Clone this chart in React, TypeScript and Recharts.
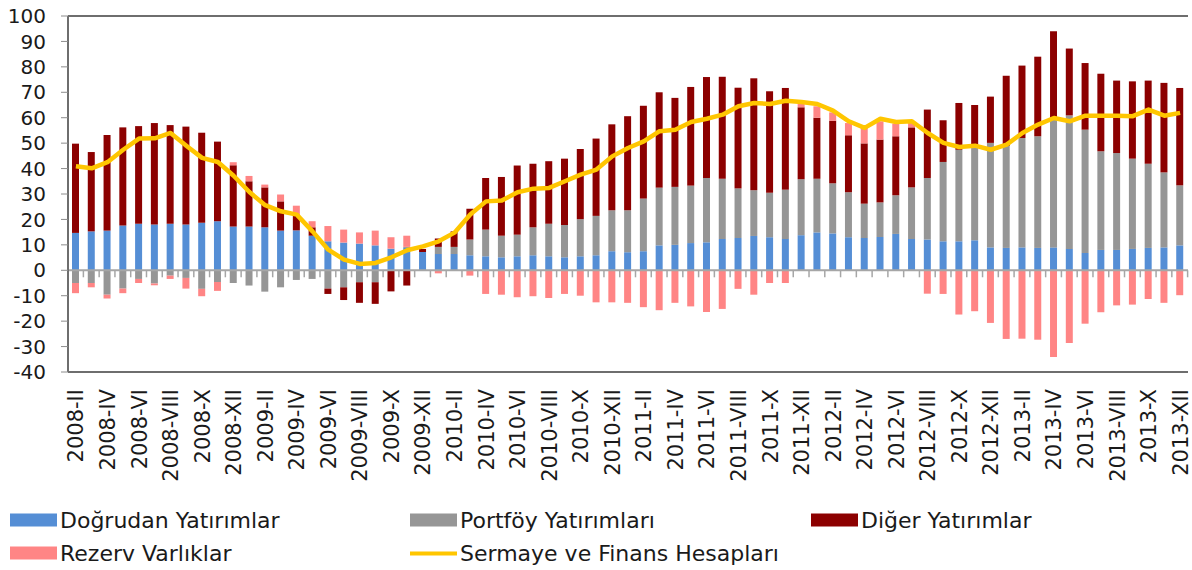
import { ComposedChart, Bar, Line, XAxis, YAxis, ReferenceLine } from 'recharts'

const months = [
  '2008-II', '2008-III', '2008-IV', '2008-V', '2008-VI', '2008-VII', '2008-VIII', '2008-IX', '2008-X', '2008-XI', '2008-XII',
  '2009-I', '2009-II', '2009-III', '2009-IV', '2009-V', '2009-VI', '2009-VII', '2009-VIII', '2009-IX', '2009-X', '2009-XI', '2009-XII',
  '2010-I', '2010-II', '2010-III', '2010-IV', '2010-V', '2010-VI', '2010-VII', '2010-VIII', '2010-IX', '2010-X', '2010-XI', '2010-XII',
  '2011-I', '2011-II', '2011-III', '2011-IV', '2011-V', '2011-VI', '2011-VII', '2011-VIII', '2011-IX', '2011-X', '2011-XI', '2011-XII',
  '2012-I', '2012-II', '2012-III', '2012-IV', '2012-V', '2012-VI', '2012-VII', '2012-VIII', '2012-IX', '2012-X', '2012-XI', '2012-XII',
  '2013-I', '2013-II', '2013-III', '2013-IV', '2013-V', '2013-VI', '2013-VII', '2013-VIII', '2013-IX', '2013-X', '2013-XI', '2013-XII',
]

// Doğrudan Yatırımlar
const dogrudan = [
  14.7, 15.3, 15.6, 17.6, 18.3, 18.0, 18.3, 18.0, 18.7, 19.3, 17.2,
  17.2, 16.9, 15.6, 15.7, 13.6, 11.4, 10.9, 10.5, 9.8, 8.5, 8.8, 7.2,
  6.4, 6.4, 5.9, 5.5, 5.1, 5.5, 5.9, 5.5, 5.1, 5.5, 5.9, 7.5,
  7.1, 7.5, 9.8, 10.0, 10.7, 11.0, 12.3, 12.7, 13.5, 13.0, 12.3, 13.8,
  14.9, 14.5, 13.0, 12.7, 13.1, 14.3, 12.3, 12.1, 11.4, 11.4, 11.8, 9.0,
  8.8, 9.0, 8.8, 9.0, 8.4, 6.8, 8.0, 8.0, 8.4, 8.8, 9.0, 9.8,
]

// Portföy Yatırımları
const portfoy = [
  -5.0, -5.0, -9.6, -7.2, -3.4, -5.2, -2.1, -3.0, -7.3, -4.6, -5.0,
  -6.0, -8.4, -6.7, -3.8, -3.4, -7.2, -6.7, -4.7, -4.7, 0, 0.4, 0,
  2.8, 2.8, 6.2, 10.5, 8.5, 8.5, 11.0, 12.8, 12.7, 14.6, 15.5, 16.1,
  16.5, 20.7, 22.7, 22.8, 22.6, 25.3, 23.7, 19.5, 18.0, 17.5, 19.4, 22.0,
  21.1, 19.7, 17.7, 13.5, 13.6, 15.2, 20.3, 24.2, 31.2, 36.0, 36.3, 41.1,
  40.1, 43.0, 43.9, 50.9, 52.5, 48.5, 38.8, 38.1, 35.5, 33.1, 29.5, 23.6,
]

// Diğer Yatırımlar
const diger = [
  35.1, 31.2, 37.6, 38.6, 38.4, 39.9, 38.8, 38.5, 35.4, 31.3, 24.1,
  17.8, 15.7, 11.5, 6.2, 3.3, -2.1, -5.0, -8.1, -8.5, -8.3, -6.0, 1.2,
  3.3, 6.1, 12.1, 20.3, 23.1, 27.2, 25.0, 24.6, 26.1, 27.6, 30.4, 33.8,
  37.0, 36.5, 37.5, 35.0, 38.8, 39.7, 40.1, 39.6, 44.0, 39.9, 40.0, 28.3,
  24.0, 24.6, 22.4, 23.7, 24.7, 23.2, 23.6, 26.9, 16.4, 18.4, 16.9, 18.2,
  27.6, 28.5, 31.3, 34.1, 26.3, 26.2, 30.5, 28.5, 30.4, 32.7, 35.2, 38.3,
]

// Rezerv Varlıklar
const rezerv = [
  -4.0, -1.7, -1.5, -1.8, -1.6, -0.7, -1.3, -4.2, -2.9, -3.5, 1.2,
  2.1, 1.1, 2.7, 3.5, 2.4, 6.0, 5.1, 4.4, 5.8, 4.5, 4.4, 0,
  -1.2, 0, -2.1, -9.3, -9.6, -10.6, -10.2, -10.9, -9.3, -10.0, -12.6, -12.6,
  -12.8, -14.5, -15.7, -12.8, -14.2, -16.4, -15.2, -7.3, -9.6, -5.0, -5.0, 1.3,
  4.5, 3.3, 4.8, 6.1, 7.2, 5.0, 1.7, -9.2, -9.3, -17.4, -16.1, -20.7,
  -27.0, -26.9, -27.3, -34.1, -28.6, -21.0, -16.5, -13.8, -13.5, -11.3, -12.8, -9.8,
]

// Sermaye ve Finans Hesapları
const sermaye = [
  40.9, 40.1, 42.5, 47.4, 51.8, 51.9, 54.0, 49.0, 44.2, 42.6, 37.2,
  30.8, 25.6, 23.2, 21.9, 15.3, 8.1, 4.2, 2.5, 2.9, 5.1, 7.9, 9.4,
  11.4, 14.8, 21.9, 27.1, 27.4, 30.7, 32.1, 32.4, 35.0, 37.6, 39.6, 44.8,
  48.1, 50.7, 54.7, 55.3, 58.3, 59.6, 61.2, 64.5, 65.8, 65.4, 66.7, 66.2,
  65.4, 62.8, 58.6, 56.0, 59.6, 58.3, 58.6, 54.0, 50.1, 48.5, 49.0, 47.4,
  49.4, 54.0, 57.3, 59.9, 58.6, 60.8, 60.8, 60.8, 60.6, 63.2, 60.8, 61.9,
]

const yTicks = [-40, -30, -20, -10, 0, 10, 20, 30, 40, 50, 60, 70, 80, 90, 100]

const BLUE = '#558ED5'
const GRAY = '#969696'
const DARK_RED = '#8C0000'
const PINK = '#FF8585'
const YELLOW = '#FFC600'
const FRAME = '#6e6e6e'
const FONT = '"DejaVu Sans", sans-serif'

const W = 1192
const H = 570
const Y_AXIS_W = 68
const MARGIN = { top: 16, right: 4, bottom: 0, left: 0 }
const PLOT_W = W - MARGIN.left - MARGIN.right - Y_AXIS_W
const SLOT = PLOT_W / months.length

const data = months.map((m, i) => ({
  month: m,
  dogrudan: dogrudan[i],
  portfoy: portfoy[i],
  diger: diger[i],
  rezerv: rezerv[i],
  sermaye: sermaye[i],
}))

// blue bars sit on the zero line, so they also draw the category tick marks there
function DirectBar(props: any) {
  const { x, y, width, height, fill } = props
  const base = y + height
  const tx = x + width / 2 + SLOT / 2
  return (
    <g>
      <rect x={x} y={y} width={width} height={height} fill={fill} />
      <line x1={tx} x2={tx} y1={base} y2={base + 7} stroke="#a6a6a6" strokeWidth={1.5} />
    </g>
  )
}

function MonthTick({ x, y, payload }: any) {
  return (
    <text
      transform={`translate(${x},${y + 17}) rotate(-90)`}
      textAnchor="end"
      dy="0.36em"
      fontSize={21}
      fontFamily={FONT}
      fill="#1a1a1a"
    >
      {payload.value}
    </text>
  )
}

const legendItems = [
  { label: 'Doğrudan Yatırımlar', color: BLUE, line: false, left: 10, top: 520 },
  { label: 'Portföy Yatırımları', color: GRAY, line: false, left: 410, top: 520 },
  { label: 'Diğer Yatırımlar', color: DARK_RED, line: false, left: 811, top: 520 },
  { label: 'Rezerv Varlıklar', color: PINK, line: false, left: 10, top: 553 },
  { label: 'Sermaye ve Finans Hesapları', color: YELLOW, line: true, left: 410, top: 553 },
]

export default function App() {
  return (
    <div style={{ position: 'relative', width: W, height: H, background: '#fff' }}>
      <style>{'body{margin:0}'}</style>
      <ComposedChart width={W} height={H} data={data} margin={MARGIN} stackOffset="sign" barSize={7}>
        <XAxis
          dataKey="month"
          height={H - 372}
          interval={1}
          axisLine={{ stroke: FRAME, strokeWidth: 2 }}
          tickLine={false}
          tickSize={0}
          tickMargin={0}
          tick={<MonthTick />}
        />
        {/* top and right edges of the plot frame */}
        <XAxis xAxisId="top" orientation="top" dataKey="month" height={0} tick={false} tickLine={false} axisLine={{ stroke: FRAME, strokeWidth: 2 }} />
        <YAxis yAxisId="right" orientation="right" width={0} domain={[-40, 100]} tick={false} tickLine={false} axisLine={{ stroke: FRAME, strokeWidth: 2 }} />
        <YAxis
          domain={[-40, 100]}
          ticks={yTicks}
          interval={0}
          width={Y_AXIS_W}
          allowDataOverflow
          axisLine={{ stroke: FRAME, strokeWidth: 2 }}
          tickSize={7}
          tickMargin={15}
          tickLine={{ stroke: '#8c8c8c' }}
          tick={{ fontSize: 20, fontFamily: FONT, fill: '#1a1a1a' }}
        />
        <ReferenceLine y={100} stroke={FRAME} strokeWidth={2} />
        <ReferenceLine y={0} stroke="#a6a6a6" strokeWidth={2} />
        <Bar dataKey="dogrudan" stackId="a" fill={BLUE} shape={<DirectBar />} isAnimationActive={false} />
        <Bar dataKey="portfoy" stackId="a" fill={GRAY} isAnimationActive={false} />
        <Bar dataKey="diger" stackId="a" fill={DARK_RED} isAnimationActive={false} />
        <Bar dataKey="rezerv" stackId="a" fill={PINK} isAnimationActive={false} />
        <Line
          dataKey="sermaye"
          type="linear"
          stroke={YELLOW}
          strokeWidth={4.5}
          strokeLinejoin="round"
          dot={false}
          isAnimationActive={false}
        />
      </ComposedChart>

      {legendItems.map((item) => (
        <div
          key={item.label}
          style={{
            position: 'absolute',
            left: item.left,
            top: item.top,
            transform: 'translateY(-50%)',
            display: 'flex',
            alignItems: 'center',
            fontFamily: FONT,
            fontSize: 22,
            color: '#1a1a1a',
            whiteSpace: 'nowrap',
          }}
        >
          <span
            style={{
              display: 'inline-block',
              width: 47,
              height: item.line ? 4 : 13,
              background: item.color,
              marginRight: 3,
            }}
          />
          {item.label}
        </div>
      ))}
    </div>
  )
}
